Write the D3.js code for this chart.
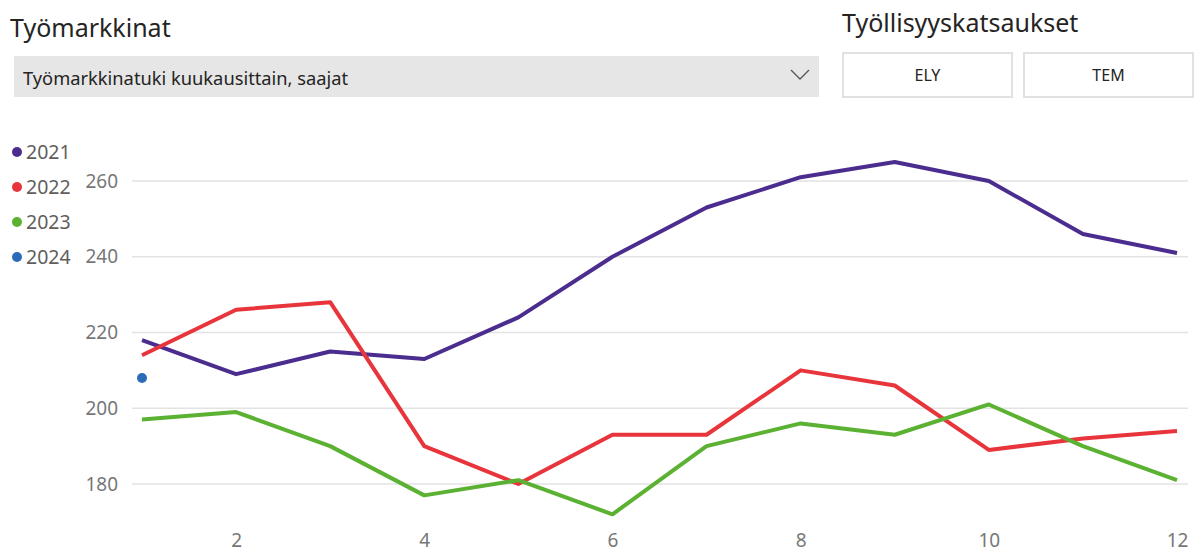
<!DOCTYPE html>
<html lang="fi">
<head>
<meta charset="UTF-8">
<title>Työmarkkinat</title>
<script src="https://cdn.jsdelivr.net/npm/d3@7/dist/d3.min.js"></script>
<style>
  body { margin: 0; background: #fff; font-family: "Segoe UI", "Noto Sans", sans-serif; }
</style>
</head>
<body>
<script>
// data
var months = [1, 2, 3, 4, 5, 6, 7, 8, 9, 10, 11, 12];
var years = ["2021", "2022", "2023", "2024"];
var v2021 = [218, 209, 215, 213, 224, 240, 253, 261, 265, 260, 246, 241];
var v2022 = [214, 226, 228, 190, 180, 193, 193, 210, 206, 189, 192, 194];
var v2023 = [197, 199, 190, 177, 181, 172, 190, 196, 193, 201, 190, 181];
var v2024 = [208];
var yTicks = [180, 200, 220, 240, 260];
var xTicks = [2, 4, 6, 8, 10, 12];
var colors = ["#4b2c8f", "#e8343b", "#5bb132", "#2b6cb9"];

var series = [v2021, v2022, v2023, v2024].map(function (vals, i) {
    return {
        year: years[i],
        color: colors[i],
        points: vals.map(function (v, j) { return {m: months[j], v: v}; })
    };
});

var width = 1197, height = 554;
var svg = d3.select("body").append("svg")
    .attr("width", width)
    .attr("height", height);

// header
svg.append("text").attr("x", 10).attr("y", 37)
    .attr("font-size", 25).attr("fill", "#252423").text("Työmarkkinat");
svg.append("rect").attr("x", 14).attr("y", 56).attr("width", 805).attr("height", 41)
    .attr("fill", "#e6e6e6");
svg.append("text").attr("x", 23).attr("y", 85)
    .attr("font-size", 18.3).attr("fill", "#252423")
    .text("Työmarkkinatuki kuukausittain, saajat");
svg.append("path").attr("d", "M791,70 L800,79 L809,70")
    .attr("fill", "none").attr("stroke", "#555").attr("stroke-width", 1.3);

svg.append("text").attr("x", 842).attr("y", 32)
    .attr("font-size", 25).attr("fill", "#252423").text("Työllisyyskatsaukset");
var buttons = ["ELY", "TEM"];
svg.selectAll("g.btn").data(buttons).enter().append("g")
    .attr("class", "btn")
    .attr("transform", function (d, i) { return "translate(" + (843 + i * 181) + ",53)"; })
    .each(function (d) {
        var g = d3.select(this);
        g.append("rect").attr("width", 169).attr("height", 44)
            .attr("fill", "#fff").attr("stroke", "#e1e1e1").attr("stroke-width", 2);
        g.append("text").attr("x", 84.5).attr("y", 28).attr("text-anchor", "middle")
            .attr("font-size", 16).attr("fill", "#252423").text(d);
    });

// scales
var x = d3.scaleLinear().domain([1, 12]).range([142, 1177]);
var y = d3.scaleLinear().domain([180, 260]).range([484, 181]);

// gridlines
svg.append("g").selectAll("line").data(yTicks).enter().append("line")
    .attr("x1", 132).attr("x2", 1188)
    .attr("y1", function (d) { return y(d); })
    .attr("y2", function (d) { return y(d); })
    .attr("stroke", "#e3e3e3").attr("stroke-width", 1.5);

// y axis labels
var yAxis = svg.append("g").attr("transform", "translate(118,0)")
    .call(d3.axisLeft(y).tickValues(yTicks).tickSize(0).tickPadding(0));
yAxis.select(".domain").remove();
yAxis.selectAll("text").attr("font-size", 19).attr("fill", "#777")
    .attr("font-family", "Segoe UI, Noto Sans, sans-serif");

// x axis labels
var xAxis = svg.append("g").attr("transform", "translate(0,533)")
    .call(d3.axisBottom(x).tickValues(xTicks).tickSize(0).tickPadding(0));
xAxis.select(".domain").remove();
xAxis.selectAll("text").attr("font-size", 19).attr("fill", "#777")
    .attr("font-family", "Segoe UI, Noto Sans, sans-serif");

// lines
var line = d3.line()
    .x(function (d) { return x(d.m); })
    .y(function (d) { return y(d.v); });

series.forEach(function (s) {
    if (s.points.length > 1) {
        svg.append("path").datum(s.points)
            .attr("d", line)
            .attr("fill", "none")
            .attr("stroke", s.color)
            .attr("stroke-width", 4)
            .attr("stroke-linejoin", "round");
    } else {
        svg.selectAll(null).data(s.points).enter().append("circle")
            .attr("cx", function (d) { return x(d.m); })
            .attr("cy", function (d) { return y(d.v); })
            .attr("r", 5).attr("fill", s.color);
    }
});

// legend
var legend = svg.append("g").selectAll("g").data(series).enter().append("g")
    .attr("transform", function (d, i) { return "translate(0," + (152 + i * 35) + ")"; });
legend.append("circle").attr("cx", 17).attr("cy", 0).attr("r", 5)
    .attr("fill", function (d) { return d.color; });
legend.append("text").attr("x", 26).attr("y", 7)
    .attr("font-size", 19.5).attr("fill", "#605e5c")
    .text(function (d) { return d.year; });
</script>
</body>
</html>
